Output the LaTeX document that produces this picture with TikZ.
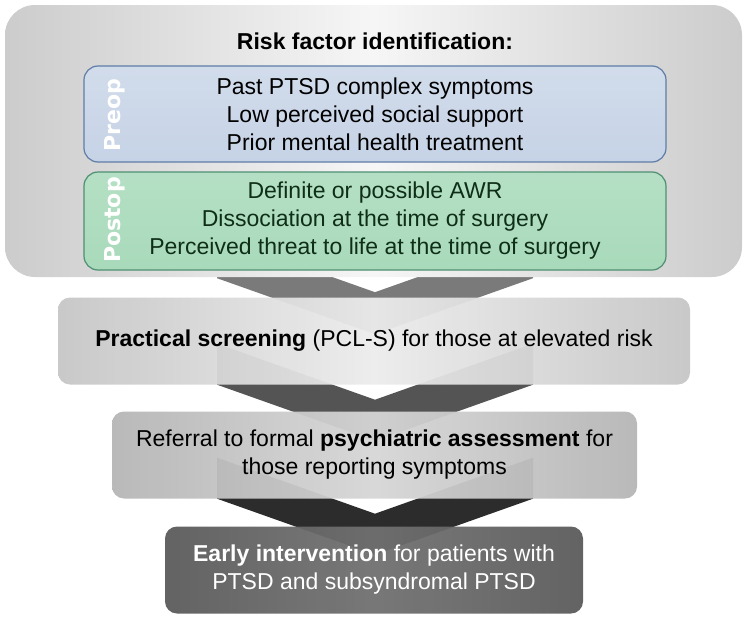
\documentclass[tikz,border=0pt]{standalone}
\usepackage{fontspec}
\setmainfont{Liberation Sans}
\newfontfamily\tagfont{DejaVu Sans}
\usetikzlibrary{calc,backgrounds}
\definecolor{preopfill}{HTML}{C6D3E6}
\definecolor{preopline}{HTML}{5F7DA6}
\definecolor{postopfill}{HTML}{A8DABA}
\definecolor{postopline}{HTML}{4F8F72}
\definecolor{postoptext}{HTML}{0F2E18}
\definecolor{chevA}{HTML}{7A7A7A}
\definecolor{chevB}{HTML}{545454}
\definecolor{chevC}{HTML}{2C2C2C}
\begin{document}
\begin{tikzpicture}[x=1pt,y=-1pt,
  txt/.style={align=center,inner sep=0pt,font=\fontsize{23}{28}\selectfont},
  stage/.style={txt,rounded corners=12pt,minimum height=87pt,fill opacity=.95,text opacity=1},
  group/.style={txt,rounded corners=14pt,minimum width=582pt,line width=1.2pt},
  tag/.style={rotate=90,text=white,inner sep=0pt,font=\tagfont\bfseries\fontsize{22}{26}\selectfont},
  chevron/.style={fill=#1}
]
\useasboundingbox (0,0) rectangle (750,624);
% outer panel and the two factor groups
\node[txt,rounded corners=30pt,minimum width=737pt,minimum height=272pt,left color=gray!40,right color=gray!40,middle color=gray!7] at (373.5,141) (risk) {};
\node[txt,font=\bfseries\fontsize{23}{28}\selectfont] at (375,41) (title) {Risk factor identification:};
\node[group,minimum height=96pt,draw=preopline,top color=preopfill!80!white,bottom color=preopfill] at (375,114) (preop) {Past PTSD complex symptoms\\Low perceived social support\\Prior mental health treatment};
\node[group,minimum height=98pt,draw=postopline,top color=postopfill!85!white,bottom color=postopfill,text=postoptext] at (375,221) (postop) {Definite or possible AWR\\Dissociation at the time of surgery\\Perceived threat to life at the time of surgery};
\node[tag] at (115,115) (pretag) {Preop};
\node[tag] at (115,220) (posttag) {Postop};
% the three stages
\node[stage,minimum width=632pt,left color=gray!45,right color=gray!45,middle color=gray!15] at (374,341) (screen) {\textbf{Practical screening} (PCL-S) for those at elevated risk};
\node[stage,minimum width=525pt,left color=gray!58,right color=gray!58,middle color=gray!32] at (374.5,455) (refer) {Referral to formal \textbf{psychiatric assessment} for\\those reporting symptoms};
\node[stage,minimum width=418pt,text=white,left color=gray!95!white!68!black,right color=gray!95!white!68!black,middle color=gray!95!white!84!black] at (374,570) (early) {\textbf{Early intervention} for patients with\\PTSD and subsyndromal PTSD};
% chevrons behind the stages
\begin{scope}[on background layer]
\fill[chevron=chevA] ($(risk.south)+(-156.5,-41)$) -- ($(risk.south)+(1.5,15)$) -- ($(risk.south)+(159.5,-41)$) -- ($(risk.south)+(159.5,1)$) -- ($(risk.south)+(1.5,57)$) -- ($(risk.south)+(-156.5,1)$) -- cycle;
\fill[chevron=chevB] ($(screen.south)+(-157,-41)$) -- ($(screen.south)+(1,15)$) -- ($(screen.south)+(159,-41)$) -- ($(screen.south)+(159,0)$) -- ($(screen.south)+(1,56)$) -- ($(screen.south)+(-157,0)$) -- cycle;
\fill[chevron=chevC] ($(refer.south)+(-157.5,-41)$) -- ($(refer.south)+(0.5,15)$) -- ($(refer.south)+(158.5,-41)$) -- ($(refer.south)+(158.5,0)$) -- ($(refer.south)+(0.5,56)$) -- ($(refer.south)+(-157.5,0)$) -- cycle;
\end{scope}
\end{tikzpicture}
\end{document}
